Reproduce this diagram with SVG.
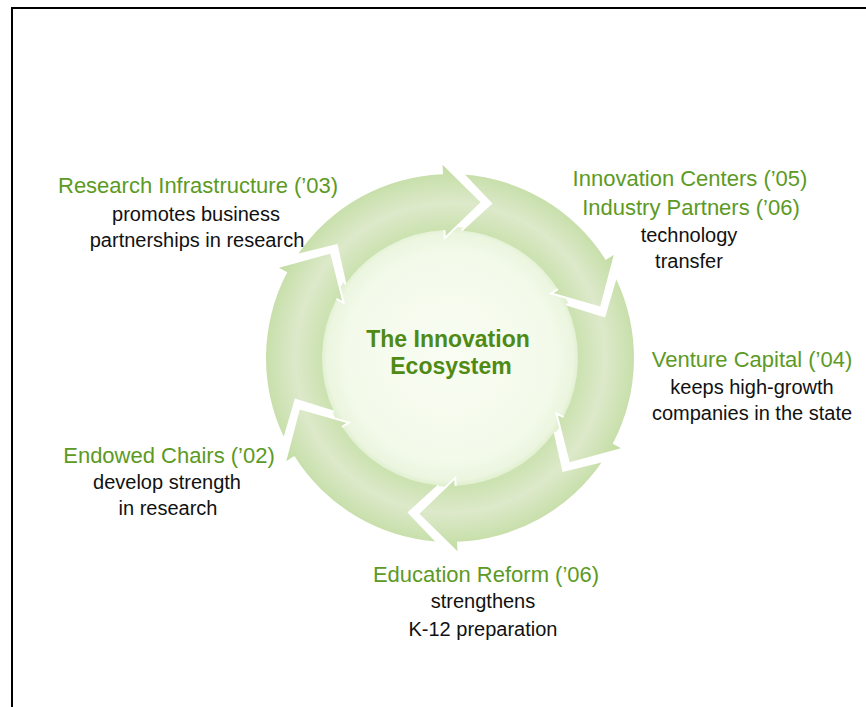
<svg xmlns="http://www.w3.org/2000/svg" xmlns:xlink="http://www.w3.org/1999/xlink" width="866" height="707" viewBox="0 0 866 707">
  <style>
    .lbl { font-family: "Liberation Sans", Arial, sans-serif; font-size: 22px; fill: #5c9a24; text-anchor: middle; }
    .sub { font-family: "Liberation Sans", Arial, sans-serif; font-size: 20px; fill: #111111; text-anchor: middle; }
    .title { font-family: "Liberation Sans", Arial, sans-serif; font-size: 23px; font-weight: bold; fill: #4f8a14; text-anchor: middle; }
    .arrow { fill: url(#ringGrad); stroke: none; }
    .edge { fill: none; stroke: #ffffff; stroke-width: 2; stroke-linejoin: miter; }
  </style>
  <defs>
    <radialGradient id="diskGrad" gradientUnits="userSpaceOnUse" cx="450" cy="357" r="130">
      <stop offset="0" stop-color="#f9fdf3"/>
      <stop offset="0.8" stop-color="#f3faea"/>
      <stop offset="0.95" stop-color="#ebf5df"/>
      <stop offset="1" stop-color="#dfeecd"/>
    </radialGradient>
    <radialGradient id="ringGrad" gradientUnits="userSpaceOnUse" cx="450" cy="358" r="196">
      <stop offset="0.61" stop-color="#c7dfaa"/>
      <stop offset="0.66" stop-color="#cce2b1"/>
      <stop offset="0.79" stop-color="#dde9ca"/>
      <stop offset="0.93" stop-color="#c9e0ad"/>
      <stop offset="1" stop-color="#bfd99d"/>
    </radialGradient>
    <g id="arrowShape">
      <path class="arrow" d="M297.8,254.6 A184,184 0 0 1 442.0,174.2 L441.45,162.2 L481.97,202.2 L444.77,238.1 L444.42,230.1 A128,128 0 0 0 345.4,284.3 L336.7,245.1 Z"/>
      <path class="edge" d="M442.0,174.2 L441.45,162.2 L481.97,202.2 L444.77,238.1 L444.42,230.1"/>
      <path class="edge" d="M297.8,254.6 L336.7,245.1 L345.4,284.3"/>
    </g>
  </defs>

  <rect x="0" y="0" width="866" height="707" fill="#ffffff"/>

  <!-- frame -->
  <path d="M12,707 L12,8 L866,8" fill="none" stroke="#000000" stroke-width="2"/>

  <!-- center disk -->
  <g id="center">
    <circle cx="450" cy="357" r="130" fill="url(#diskGrad)"/>
    <text class="title" x="448" y="347">The Innovation</text>
    <text class="title" x="451" y="374">Ecosystem</text>
  </g>

  <!-- cycle arrows (connectors) -->
  <g id="connectors">
    <use xlink:href="#arrowShape" transform="rotate(0 450 358)"/>
    <use xlink:href="#arrowShape" transform="rotate(60 450 358)"/>
    <use xlink:href="#arrowShape" transform="rotate(120 450 358)"/>
    <use xlink:href="#arrowShape" transform="rotate(180 450 358)"/>
    <use xlink:href="#arrowShape" transform="rotate(240 450 358)"/>
    <use xlink:href="#arrowShape" transform="rotate(300 450 358)"/>
  </g>

  <g id="research-infrastructure">
    <text class="lbl" x="198" y="193">Research Infrastructure (’03)</text>
    <text class="sub" x="196" y="221">promotes business</text>
    <text class="sub" x="197" y="247">partnerships in research</text>
  </g>

  <g id="innovation-centers">
    <text class="lbl" x="690" y="186">Innovation Centers (’05)</text>
    <text class="lbl" x="691" y="215">Industry Partners (’06)</text>
    <text class="sub" x="689" y="242">technology</text>
    <text class="sub" x="689" y="268">transfer</text>
  </g>

  <g id="venture-capital">
    <text class="lbl" x="752" y="367">Venture Capital (’04)</text>
    <text class="sub" x="752" y="394">keeps high-growth</text>
    <text class="sub" x="752" y="420">companies in the state</text>
  </g>

  <g id="education-reform">
    <text class="lbl" x="486" y="582">Education Reform (’06)</text>
    <text class="sub" x="483" y="608">strengthens</text>
    <text class="sub" x="483" y="636">K-12 preparation</text>
  </g>

  <g id="endowed-chairs">
    <text class="lbl" x="169" y="463">Endowed Chairs (’02)</text>
    <text class="sub" x="167" y="489">develop strength</text>
    <text class="sub" x="168" y="515">in research</text>
  </g>
</svg>
